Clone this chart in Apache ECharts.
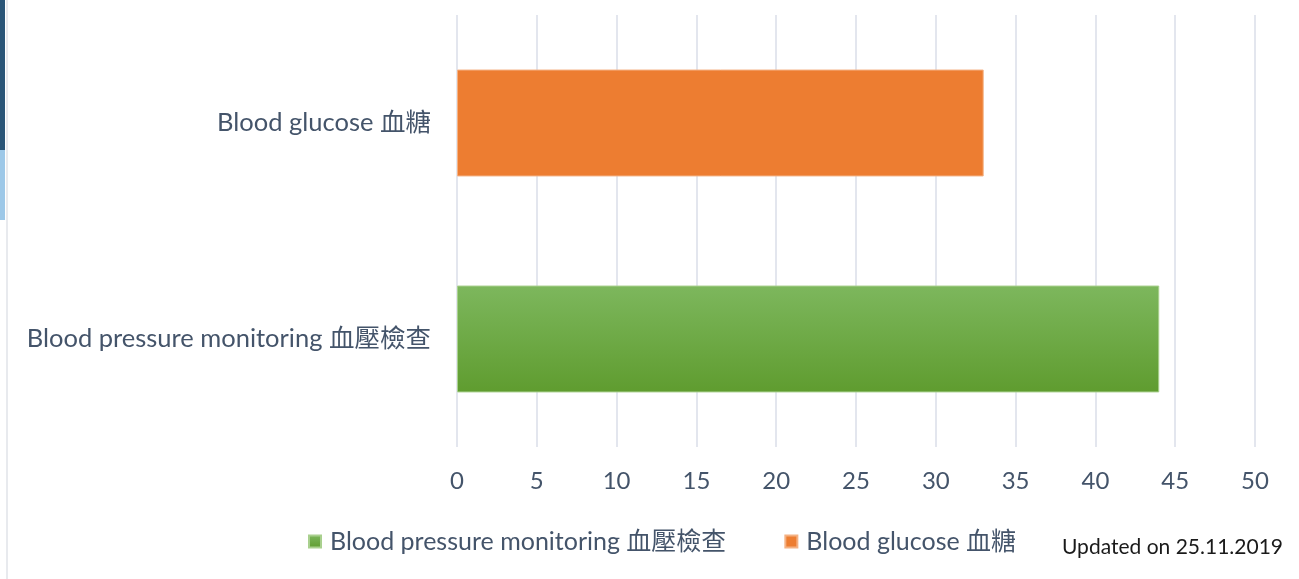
<!DOCTYPE html>
<html>
<head>
<meta charset="utf-8">
<script src="https://cdn.jsdelivr.net/npm/echarts@6/dist/echarts.min.js"></script>
<style>
  html, body { margin: 0; padding: 0; background: #fff; }
  #chart { width: 1299px; height: 579px; }
</style>
</head>
<body>
<div id="chart"></div>
<script>
// 数据
const categories = ['Blood pressure monitoring 血壓檢查', 'Blood glucose 血糖'];
const seriesNames = ['Blood pressure monitoring 血壓檢查', 'Blood glucose 血糖'];
const pressureValues = [44, '-'];
const glucoseValues = ['-', 33];
const axisMin = 0;
const axisMax = 50;
const axisStep = 5;
const updatedText = 'Updated on 25.11.2019';

const font = 'Lato, "Noto Sans CJK TC", sans-serif';
const textColor = '#44546a';

const chart = echarts.init(document.getElementById('chart'));

chart.setOption({
  animation: false,
  grid: { left: 457, right: 44, top: 15, bottom: 132 },
  xAxis: {
    type: 'value',
    min: axisMin,
    max: axisMax,
    interval: axisStep,
    axisLine: { show: false },
    axisTick: { show: false },
    splitLine: { lineStyle: { color: '#e3e6ee', width: 2 } },
    axisLabel: { color: textColor, fontFamily: font, fontSize: 24, margin: 22 },
  },
  yAxis: {
    type: 'category',
    data: categories,
    axisLine: { show: false },
    axisTick: { show: false },
    axisLabel: { color: textColor, fontFamily: font, fontSize: 25.5, margin: 26 },
  },
  legend: {
    left: 303,
    top: 524,
    itemWidth: 12,
    itemHeight: 12,
    itemGap: 58,
    icon: 'rect',
    textStyle: { color: textColor, fontFamily: font, fontSize: 25, padding: [0, 0, 0, 4] },
    data: seriesNames,
  },
  series: [
    {
      name: seriesNames[0],
      type: 'bar',
      stack: 'all',
      barWidth: '49.5%',
      data: pressureValues,
      itemStyle: {
        color: new echarts.graphic.LinearGradient(0, 0, 0, 1, [
          { offset: 0, color: '#7db75d' },
          { offset: 1, color: '#5f9c2f' },
        ]),
        borderColor: '#a9d08e',
        borderWidth: 1,
      },
    },
    {
      name: seriesNames[1],
      type: 'bar',
      stack: 'all',
      barWidth: '49.5%',
      data: glucoseValues,
      itemStyle: { color: '#ed7d31', borderColor: '#f4b183', borderWidth: 1 },
    },
  ],
  graphic: [
    // 左侧边缘装饰
    { type: 'rect', shape: { x: 0, y: 0, width: 5, height: 150 }, style: { fill: '#2a5678' } },
    { type: 'rect', shape: { x: 0, y: 150, width: 5, height: 70 }, style: { fill: '#9dc8e8' } },
    { type: 'rect', shape: { x: 6, y: 0, width: 2, height: 579 }, style: { fill: '#e8eaee' } },
    // 更新日期
    {
      type: 'text',
      right: 16,
      top: 537,
      style: { text: updatedText, fill: '#1a1a1a', font: '21px ' + font },
    },
  ],
});
</script>
</body>
</html>
